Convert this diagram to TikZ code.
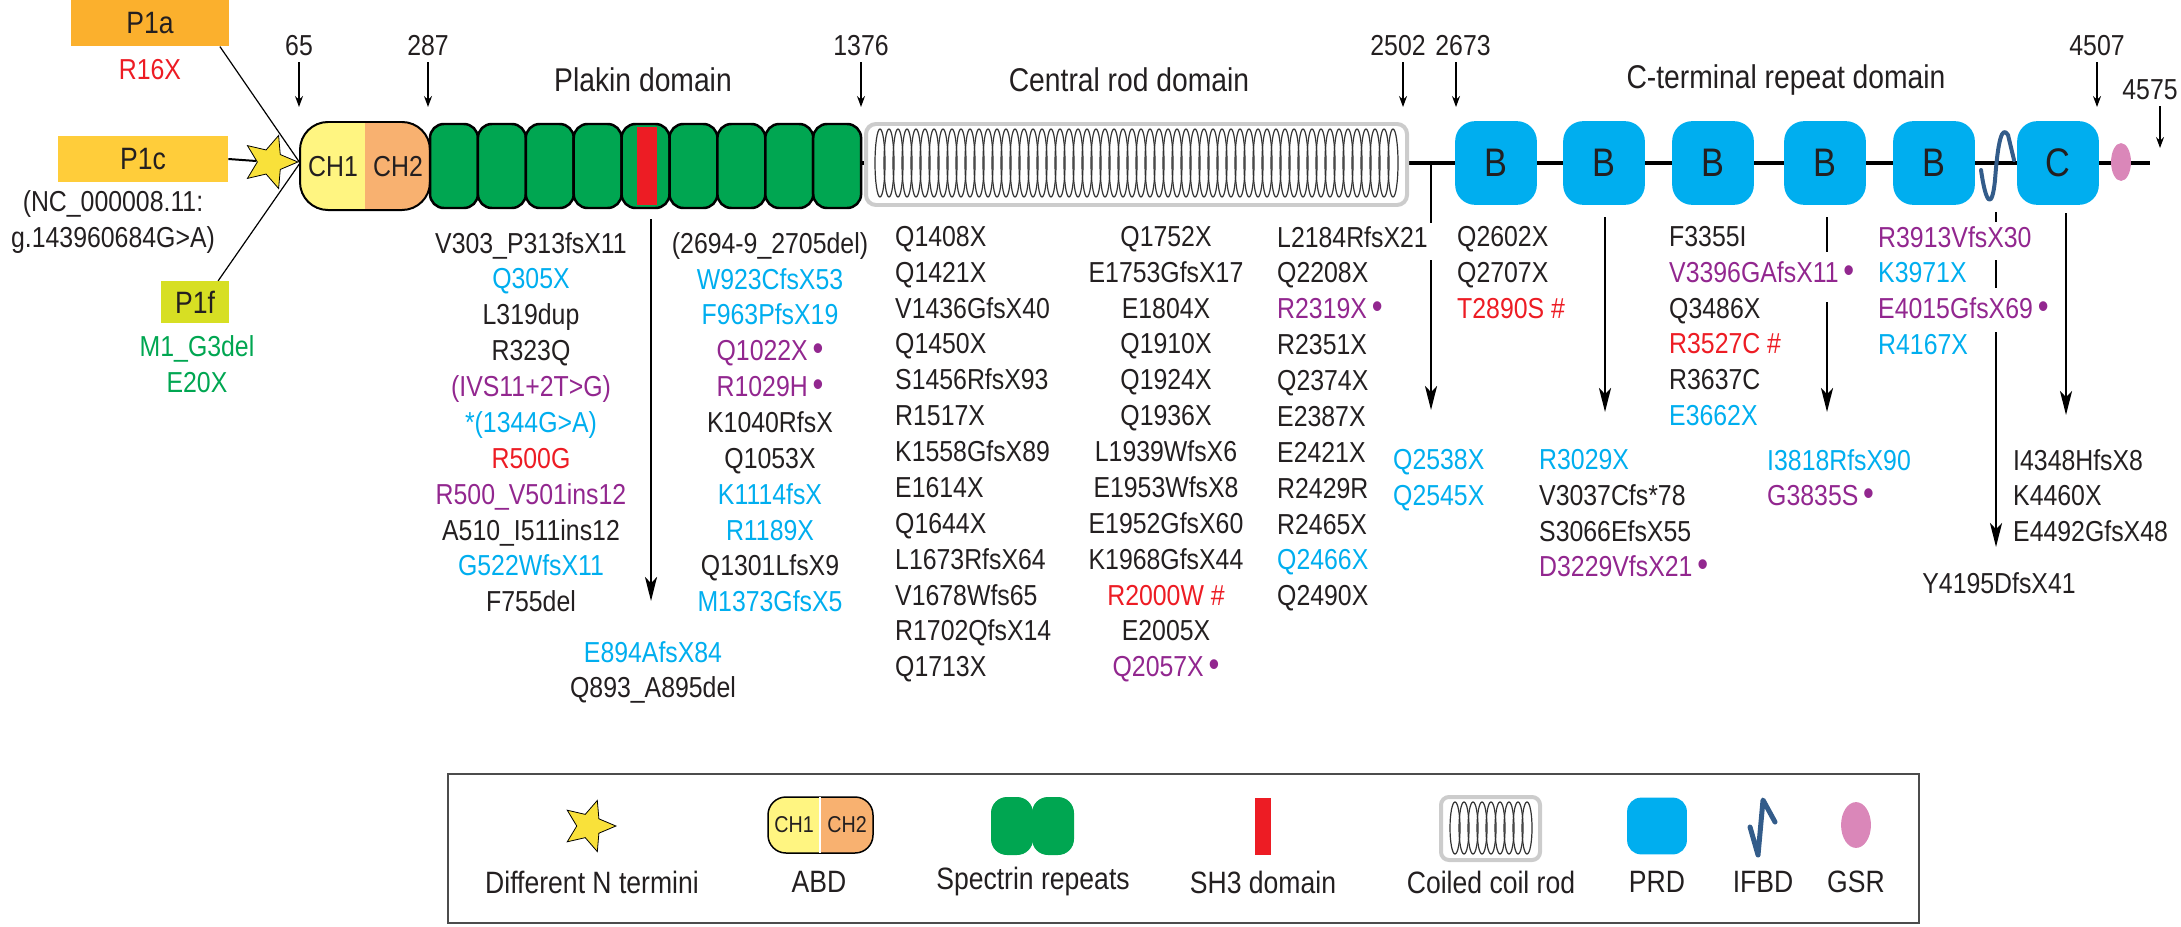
\documentclass[tikz,border=0pt]{standalone}
\usepackage{fontspec}
\setmainfont{Liberation Sans}[FakeStretch=0.86]
\usetikzlibrary{shapes.geometric}
\usetikzlibrary{arrows.meta}
\definecolor{txt}{HTML}{231F20}
\definecolor{mcyan}{HTML}{00AEEF}
\definecolor{mpurple}{HTML}{92278F}
\definecolor{mred}{HTML}{ED1C24}
\definecolor{mgreen}{HTML}{00A651}
\definecolor{p1acol}{HTML}{FBB02D}
\definecolor{p1ccol}{HTML}{FFCD3A}
\definecolor{p1fcol}{HTML}{D7DF23}
\definecolor{ch1col}{HTML}{FFF581}
\definecolor{ch2col}{HTML}{F8B170}
\definecolor{ifbdcol}{HTML}{335C8A}
\definecolor{gsrcol}{HTML}{DA87B9}
\definecolor{starcol}{HTML}{F9E13A}
\newcommand{\mcy}[1]{\textcolor{mcyan}{#1}}
\newcommand{\mpu}[1]{\textcolor{mpurple}{#1}}
\newcommand{\mre}[1]{\textcolor{mred}{#1}}
\newcommand{\mdot}{\,{\fontsize{36}{20}\selectfont\textbullet}}

\begin{document}
\begin{tikzpicture}[%
    x=1bp, y=-1bp,
    font=\fontsize{29}{36}\selectfont,
    text=txt,
pbox/.style={rectangle, inner sep=0, font=\fontsize{31}{36}\selectfont},
poslbl/.style={inner sep=1, font=\fontsize{29}{36}\selectfont},
titlelbl/.style={inner sep=1, font=\fontsize{33}{36}\selectfont},
mutc/.style={align=center, inner sep=0, anchor=north},
mutl/.style={align=left, inner sep=0, anchor=north west},
prd/.style={rectangle, fill=mcyan, rounded corners=20, minimum width=82, minimum height=84, inner sep=0, font=\fontsize{40}{40}\selectfont},
tarr/.style={-{Stealth[length=11,width=8]}, line width=1.3},
darr/.style={-{Stealth[length=24,width=12,inset=6]}, line width=2.5},
coil/.style={line width=1.2, black!80}
]
\useasboundingbox (0,0) rectangle (2181,926);

% N termini
\node[pbox, fill=p1acol, minimum width=158, minimum height=47] (p1a) at (150,23) {P1a};
\node[pbox, fill=p1ccol, minimum width=171, minimum height=46] (p1c) at (143,159) {P1c};
\node[pbox, fill=p1fcol, minimum width=68, minimum height=42] (p1f) at (195,302) {P1f};
\node[text=mred] (r16x) at (150,70) {R16X};
\node[align=center, inner sep=0] (nc) at (113,222) {(NC\_000008.11:\\g.143960684G>A)};
\node[align=center, inner sep=0, text=mgreen] (p1fmut) at (197,364) {M1\_G3del\\E20X};
\coordinate (nt) at (300,163);
\draw[line width=1.2] ([xshift=-9]p1a.south east) -- (nt);
\draw[line width=1.2] ([xshift=-11]p1f.north east) -- (nt);
\node[star, star points=5, star point ratio=2.2, shape border rotate=-90, fill=starcol, draw=black, line width=0.8, minimum size=56, inner sep=0] (nterm) at (270,162) {};
\draw[line width=2] (p1c.east) -- (nterm);

% backbone
\draw[line width=3.5] (861,163) -- (2150,163);

% ABD
\begin{scope}
\clip[rounded corners=28] (300,122) rectangle (430,210);
\fill[ch1col] (300,122) rectangle (365,210);
\fill[ch2col] (365,122) rectangle (430,210);
\end{scope}
\draw[line width=2, rounded corners=28] (300,122) rectangle (430,210);
\node[inner sep=0, font=\fontsize{29}{30}\selectfont] (ch1) at (333,167) {CH1};
\node[inner sep=0, font=\fontsize{29}{30}\selectfont] (ch2) at (398,167) {CH2};

% spectrin repeats
\foreach \i in {0,...,8}
  \draw[fill=mgreen, line width=2.5, rounded corners=14] ({430+\i*47.9},124) rectangle ({430+(\i+1)*47.9},208);
\fill[mred] (637,127) rectangle (657,205);

% coiled coil rod
\draw[fill=white, draw=black!20, line width=4, rounded corners=10] (866,124) rectangle (1407,205);
\foreach \x in {880,889,...,1398}
  \draw[coil] (\x,163) ellipse (5 and 34);

% C-terminal repeats
\foreach \x [count=\i] in {1496,1604,1713,1825,1934}
  \node[prd] (b\i) at (\x,163) {B};
\node[prd] (c) at (2058,163) {C};
\draw[ifbdcol, line width=4, line cap=round, line join=round] (1981,170) .. controls (1986,205) and (1992,210) .. (1995,180) .. controls (1998,140) and (2002,125) .. (2008,135) -- (2014,160);
\node[ellipse, fill=gsrcol, minimum width=20, minimum height=38, inner sep=0] (gsr) at (2121,162) {};

% positions
\foreach \p/\x/\y/\e/\lx in {65/299/46/107/299, 287/428/46/107/428, 1376/861/46/107/861, 2502/1403/46/107/1398, 2673/1456/46/107/1463, 4507/2097/46/107/2097, 4575/2160/90/148/2150}{
  \node[poslbl] (pos\p) at (\lx,\y) {\p};
  \coordinate (top\p) at (\x,\y+16);
  \coordinate (end\p) at (\x,\e);
  \draw[tarr] (top\p) -- (end\p);
}

% domain titles
\node[titlelbl] (plakin) at (643,80) {Plakin domain};
\node[titlelbl] (rod) at (1129,80) {Central rod domain};
\node[titlelbl] (cterm) at (1786,80) {C-terminal repeat domain};

% mutations
\node[mutc] (mutA) at (531,232) {V303\_P313fsX11\\\mcy{Q305X}\\L319dup\\R323Q\\\mpu{(IVS11+2T>G)}\\\mcy{*(1344G>A)}\\\mre{R500G}\\\mpu{R500\_V501ins12}\\A510\_I511ins12\\\mcy{G522WfsX11}\\F755del};
\node[mutc] (mutB) at (770,232) {(2694-9\_2705del)\\\mcy{W923CfsX53}\\\mcy{F963PfsX19}\\\mpu{Q1022X\mdot}\\\mpu{R1029H\mdot}\\K1040RfsX\\Q1053X\\\mcy{K1114fsX}\\\mcy{R1189X}\\Q1301LfsX9\\\mcy{M1373GfsX5}};
\node[mutc] (mutAB) at (653,641) {\mcy{E894AfsX84}\\Q893\_A895del};
\node[mutl] (mutC) at (895,226) {Q1408X\\Q1421X\\V1436GfsX40\\Q1450X\\S1456RfsX93\\R1517X\\K1558GfsX89\\E1614X\\Q1644X\\L1673RfsX64\\V1678Wfs65\\R1702QfsX14\\Q1713X};
\node[mutc] (mutD) at (1166,226) {Q1752X\\E1753GfsX17\\E1804X\\Q1910X\\Q1924X\\Q1936X\\L1939WfsX6\\E1953WfsX8\\E1952GfsX60\\K1968GfsX44\\\mre{R2000W \#}\\E2005X\\\mpu{Q2057X\mdot}};
\node[mutl] (mutE) at (1277,226) {L2184RfsX21\\Q2208X\\\mpu{R2319X\mdot}\\R2351X\\Q2374X\\E2387X\\E2421X\\R2429R\\R2465X\\\mcy{Q2466X}\\Q2490X};
\node[mutl] (mutF) at (1457,226) {Q2602X\\Q2707X\\\mre{T2890S \#}};
\node[mutl] (mutG) at (1669,226) {F3355I\\\mpu{V3396GAfsX11\mdot}\\Q3486X\\\mre{R3527C \#}\\R3637C\\\mcy{E3662X}};
\node[mutl] (mutH) at (1878,226) {\mpu{R3913VfsX30}\\\mcy{K3971X}\\\mpu{E4015GfsX69\mdot}\\\mcy{R4167X}};
\node[mutl] (mutEF) at (1393,449) {\mcy{Q2538X}\\\mcy{Q2545X}};
\node[mutl] (mutFG) at (1539,449) {\mcy{R3029X}\\V3037Cfs*78\\S3066EfsX55\\\mpu{D3229VfsX21\mdot}};
\node[mutl] (mutGH) at (1767,449) {\mcy{I3818RfsX90}\\\mpu{G3835S\mdot}};
\node[mutl] (mutHI) at (2013,449) {I4348HfsX8\\K4460X\\E4492GfsX48};
\node[mutc] (mutI) at (1999,572) {Y4195DfsX41};

% mutation arrows
\coordinate (pk1) at (651,219); \coordinate (pk2) at (651,601);
\draw[darr] (pk1) -- (pk2);
\coordinate (rd0) at (1431,163); \coordinate (rd1) at (1431,223);
\coordinate (rd2) at (1431,260); \coordinate (rd3) at (1431,410);
\draw[line width=2.5] (rd0) -- (rd1);
\draw[darr] (rd2) -- (rd3);
\coordinate (cb1) at (1605,217); \coordinate (cb2) at (1605,412);
\draw[darr] (cb1) -- (cb2);
\coordinate (cc1) at (1827,217); \coordinate (cc2) at (1827,252);
\coordinate (cc3) at (1827,302); \coordinate (cc4) at (1827,412);
\draw[line width=2.5] (cc1) -- (cc2);
\draw[darr] (cc3) -- (cc4);
\coordinate (if1) at (1996,212); \coordinate (if2) at (1996,222);
\coordinate (if3) at (1996,260); \coordinate (if4) at (1996,288);
\coordinate (if5) at (1996,332); \coordinate (if6) at (1996,547);
\draw[line width=2.5] (if1) -- (if2);
\draw[line width=2.5] (if3) -- (if4);
\draw[darr] (if5) -- (if6);
\coordinate (ct1) at (2066,213); \coordinate (ct2) at (2066,415);
\draw[darr] (ct1) -- (ct2);

% legend
\draw[line width=2, black!70] (448,774) rectangle (1919,923);
\node[star, star points=5, star point ratio=2.2, shape border rotate=-90, fill=starcol, draw=black, line width=0.8, minimum size=54, inner sep=0] (lgstar) at (589,826) {};
\begin{scope}
\clip[rounded corners=18] (768,797) rectangle (873,853);
\fill[ch1col] (768,797) rectangle (820,853);
\fill[ch2col] (820,797) rectangle (873,853);
\end{scope}
\draw[line width=1.5, rounded corners=18] (768,797) rectangle (873,853);
\draw[white, line width=1.5] (820,797) -- (820,853);
\node[inner sep=0, font=\fontsize{23}{24}\selectfont] (lgch1) at (794,825) {CH1};
\node[inner sep=0, font=\fontsize{23}{24}\selectfont] (lgch2) at (847,825) {CH2};
\fill[mgreen, rounded corners=16] (991,797) rectangle (1033,855);
\fill[mgreen, rounded corners=16] (1032,797) rectangle (1074,855);
\fill[mred] (1255,798) rectangle (1271,855);
\draw[fill=white, draw=black!20, line width=4, rounded corners=8] (1441,797) rectangle (1540,860);
\foreach \x in {1455,1464,...,1528}
  \draw[coil] (\x,828) ellipse (5 and 26);
\node[prd, minimum width=60, minimum height=57, rounded corners=14] (lgprd) at (1657,826) {};
\draw[ifbdcol, line width=5, line cap=round, line join=round] (1750,827) -- (1758,855) -- (1763,800) -- (1775,822);
\node[ellipse, fill=gsrcol, minimum width=30, minimum height=46, inner sep=0] (lggsr) at (1856,825) {};
\foreach \lbl/\x in {Different N termini/592, ABD/819, Spectrin repeats/1033, SH3 domain/1263, Coiled coil rod/1491, PRD/1657, IFBD/1763, GSR/1856}
  \node[inner sep=0, font=\fontsize{31}{36}\selectfont] at (\x,882) {\lbl};

\end{tikzpicture}
\end{document}
